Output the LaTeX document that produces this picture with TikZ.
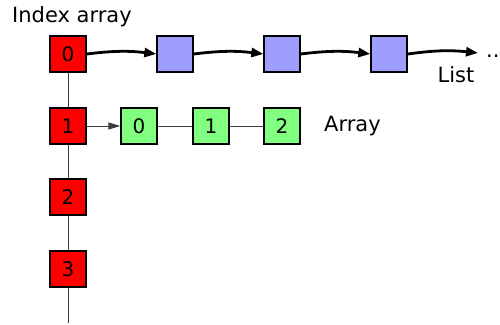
\documentclass[tikz,border=0pt]{standalone}
\usepackage{fontspec}
\setmainfont{DejaVu Sans}
\usetikzlibrary{arrows.meta}
\begin{document}
\begin{tikzpicture}[x=1pt,y=-1pt,
  cell/.style={draw=black,line width=1.3pt,minimum size=36pt,inner sep=0pt,font=\fontsize{20}{24}\selectfont},
  idx/.style={cell,fill={rgb,255:red,255;green,0;blue,0}},
  lst/.style={cell,fill={rgb,255:red,158;green,158;blue,255}},
  arr/.style={cell,fill={rgb,255:red,128;green,255;blue,128}},
  label/.style={font=\fontsize{21}{25}\selectfont,inner sep=0pt},
  link/.style={line width=2.8pt,-{Triangle[length=12pt,width=9pt]}},
  thin/.style={draw={rgb,255:red,60;green,60;blue,60},line width=1pt}]
\useasboundingbox (0,0) rectangle (500,324);

% the spine of the index array
\coordinate (bottom) at (68,323);
\node[idx] (i0) at (68,54) {0};
\node[idx] (i1) at (68,126) {1};
\node[idx] (i2) at (68,197) {2};
\node[idx] (i3) at (68,269) {3};
\draw[thin] (i0) -- (i1);
\draw[thin] (i1) -- (i2);
\draw[thin] (i2) -- (i3);
\draw[thin] (i3) -- (bottom);

% linked list hanging from slot 0
\node[lst] (l1) at (175,54) {};
\node[lst] (l2) at (282,54) {};
\node[lst] (l3) at (389,54) {};
\coordinate (lend) at (478,53);
\draw[link] (i0.east) to[bend left=7] (l1.west);
\draw[link] (l1.east) to[bend left=7] (l2.west);
\draw[link] (l2.east) to[bend left=7] (l3.west);
\draw[link] (l3.east) to[bend left=7] (lend);
\node[label,anchor=west] (dots) at (486,56) {...};
\node[label] (listlbl) at (456,75) {List};

% array hanging from slot 1
\node[arr] (a0) at (139,126) {0};
\node[arr] (a1) at (211,126) {1};
\node[arr] (a2) at (282,126) {2};
\draw[thin,-{Triangle[length=12pt,width=7pt]}] (i1.east) -- (a0.west);
\draw[thin] (a0) -- (a1);
\draw[thin] (a1) -- (a2);
\node[label,anchor=west] (arrlbl) at (324,126) {Array};

\node[label,anchor=west] (title) at (12,17) {Index array};
\end{tikzpicture}
\end{document}
